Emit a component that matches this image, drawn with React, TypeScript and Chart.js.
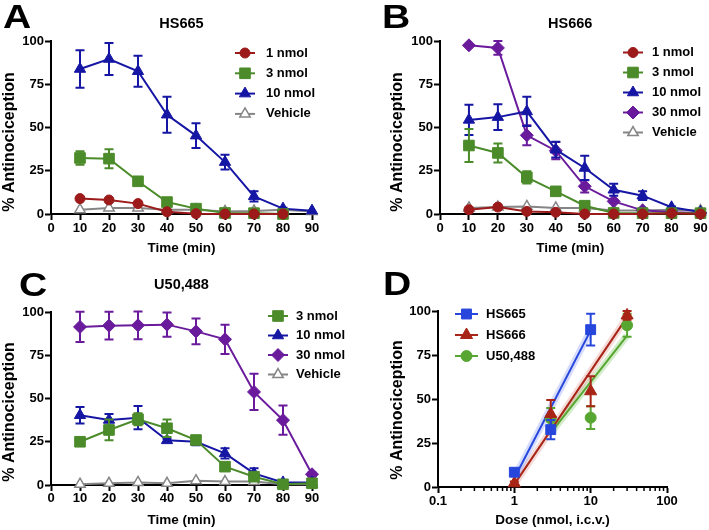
import React, { useEffect, useRef } from "react";
import { Chart, registerables } from "chart.js";

Chart.register(...registerables);

const FONT = "'Liberation Sans', Arial, Helvetica, sans-serif";
Chart.defaults.font.family = FONT;
Chart.defaults.color = "#000";

// ---------------- data ----------------
const timesMin = [10, 20, 30, 40, 50, 60, 70, 80, 90];

// Panel A: HS665
const hs665_1nmol = [8.9, 8.1, 6.0, 1.3, 0.2, 0, 0, 0];
const hs665_1nmol_sem = [0, 0, 0, 0, 0, 0, 0, 0];
const hs665_3nmol = [32.4, 32.0, 18.9, 6.9, 3.1, 0.6, 0.5, 0];
const hs665_3nmol_sem = [3.9, 5.5, 1, 0.5, 0, 0, 0, 0];
const hs665_10nmol = [83.8, 89.6, 82.5, 57.4, 45.3, 30.0, 10.2, 3.1, 1.9];
const hs665_10nmol_sem = [10.8, 9.2, 9.0, 10.4, 7.2, 4.3, 3.0, 0.5, 0];
const hs665_vehicle = [2.5, 3.5, 3.5, 2.5, 2.5, 1.5, 1.8, 2.5, 1.5];

// Panel B: HS666
const hs666_1nmol = [2.5, 4.0, 1.5, 1.0, 0, 0, 0, 0.5, 0];
const hs666_3nmol = [39.6, 35.3, 21.2, 13.1, 4.8, 0.6, 0.5, 0.5, 0.5];
const hs666_3nmol_sem = [9.5, 5.5, 3.5, 2.0, 1, 0, 0, 0, 0];
const hs666_10nmol = [54.4, 56.0, 59.3, 37.2, 26.6, 14.0, 10.6, 3.9, 1.2];
const hs666_10nmol_sem = [8.7, 7.5, 8.5, 4.5, 7.0, 3.5, 2.5, 0.5, 0];
const hs666_30nmol = [97.5, 96.0, 45.5, 36.6, 16.0, 7.3, 2.1, 1.0, 0.6];
const hs666_30nmol_sem = [0, 4.0, 5.8, 5.0, 3.5, 1, 0, 0, 0];
const hs666_vehicle = [3.5, 4.0, 4.4, 3.5, 3.5, 2.0, 2.0, 2.5, 2.0];

// Panel C: U50,488
const u50_3nmol = [25.0, 31.8, 38.0, 32.8, 26.0, 10.6, 4.8, 0.4, 1.0];
const u50_3nmol_sem = [1.5, 6.0, 3.5, 5.0, 2.0, 1, 0.5, 0, 0];
const u50_10nmol = [40.3, 37.6, 38.9, 25.8, 25.0, 18.3, 6.7, 1.5, 1.5];
const u50_10nmol_sem = [4.8, 3.4, 6.7, 1, 2.0, 3.0, 3.0, 0, 0];
const u50_30nmol = [91.4, 92.1, 92.3, 92.7, 88.8, 84.2, 53.8, 37.5, 6.2];
const u50_30nmol_sem = [8.8, 8.0, 8.0, 7.0, 7.5, 8.5, 10.5, 8.5, 1];
const u50_vehicle = [0.5, 1.0, 1.5, 1.0, 2.5, 2.0, 2.0, 0.5, 0.5];

// Panel D: dose-response
const doseHS665 = [1, 3, 10];
const respHS665 = [8.4, 32.6, 89.4];
const semHS665 = [1.5, 5.5, 9.0];
const doseHS666 = [1, 3, 10, 30];
const respHS666 = [2.1, 41.5, 54.4, 97.5];
const semHS666 = [1, 8.0, 8.5, 2.5];
const doseU50 = [3, 10, 30];
const respU50 = [38.9, 39.4, 91.9];
const semU50 = [6.0, 6.5, 6.5];
const fitDoseHS665 = [1, 10];
const fitRespHS665 = [5, 89];
const fitDoseHS666 = [1, 30];
const fitRespHS666 = [1.5, 96.5];
const fitDoseU50 = [3, 30];
const fitRespU50 = [30.7, 86];
const doseMajorTicks = [0.1, 1, 10, 100];

// ---------------- colours ----------------
const C_RED = "#9c1a1a";
const C_GREEN = "#4b8b2a";
const C_BLUE = "#1616a4";
const C_PURPLE = "#6a1b9c";
const C_GRAY = "#858585";
const D_BLUE = "#2646dc";
const D_RED = "#a82416";
const D_GREEN = "#58a632";

// ---------------- helpers ----------------
function drawMarker(ctx: CanvasRenderingContext2D, style: string, x: number, y: number, r: number, fill: string, stroke: string, lw: number) {
  ctx.beginPath();
  if (style === "circle") {
    ctx.arc(x, y, r, 0, Math.PI * 2);
  } else if (style === "rect") {
    const s = r * Math.SQRT1_2;
    ctx.rect(x - s, y - s, 2 * s, 2 * s);
  } else if (style === "rectRot") {
    ctx.moveTo(x - r, y);
    ctx.lineTo(x, y - r);
    ctx.lineTo(x + r, y);
    ctx.lineTo(x, y + r);
    ctx.closePath();
  } else {
    for (let k = 0; k < 3; k++) {
      const a = (k * 2 * Math.PI) / 3;
      const px = x + Math.sin(a) * r;
      const py = y - Math.cos(a) * r;
      if (k === 0) ctx.moveTo(px, py);
      else ctx.lineTo(px, py);
    }
    ctx.closePath();
  }
  ctx.fillStyle = fill;
  ctx.fill();
  ctx.lineWidth = lw;
  ctx.strokeStyle = stroke;
  ctx.stroke();
}

const errorBarPlugin = {
  id: "errorBars",
  afterDatasetDraw(chart: any, args: any) {
    const ds = chart.data.datasets[args.index];
    if (!ds.errors) return;
    const ctx = chart.ctx as CanvasRenderingContext2D;
    const yScale = chart.scales.y;
    ctx.save();
    ctx.strokeStyle = ds.borderColor;
    ctx.lineWidth = 2;
    args.meta.data.forEach((pt: any, i: number) => {
      const e = ds.errors[i];
      if (!e) return;
      const v = ds.data[i].y;
      const yTop = yScale.getPixelForValue(v + e);
      const yBot = yScale.getPixelForValue(v - e);
      const x = pt.x;
      ctx.beginPath();
      ctx.moveTo(x, yTop);
      ctx.lineTo(x, yBot);
      ctx.moveTo(x - 4.5, yTop);
      ctx.lineTo(x + 4.5, yTop);
      ctx.moveTo(x - 4.5, yBot);
      ctx.lineTo(x + 4.5, yBot);
      ctx.stroke();
    });
    ctx.restore();
  },
};

type Deco = {
  letter: string;
  letterX: number;
  letterY: number;
  title?: string;
  titleY?: number;
  yTitleX: number;
  yTitleY: number;
  legend: { x1: number; x2: number; textX: number; y0: number; dy: number; labels: string[] };
  minorTicks?: boolean;
};

function makeDeco(d: Deco) {
  return {
    id: "deco",
    afterDraw(chart: any) {
      const ctx = chart.ctx as CanvasRenderingContext2D;
      const area = chart.chartArea;
      ctx.save();
      ctx.fillStyle = "#000";
      ctx.save();
      ctx.translate(d.letterX, d.letterY);
      ctx.scale(1.15, 1);
      ctx.font = `bold 34px ${FONT}`;
      ctx.textAlign = "left";
      ctx.textBaseline = "alphabetic";
      ctx.fillText(d.letter, 0, 0);
      ctx.restore();

      if (d.title) {
        ctx.font = `bold 14.5px ${FONT}`;
        ctx.textAlign = "center";
        ctx.textBaseline = "middle";
        ctx.fillText(d.title, (area.left + area.right) / 2, d.titleY!);
      }

      ctx.save();
      ctx.translate(d.yTitleX, d.yTitleY);
      ctx.rotate(-Math.PI / 2);
      ctx.font = `bold 16px ${FONT}`;
      ctx.textAlign = "center";
      ctx.textBaseline = "middle";
      ctx.fillStyle = "#000";
      ctx.fillText("% Antinociception", 0, 0);
      ctx.restore();

      // legend
      const L = d.legend;
      L.labels.forEach((label, i) => {
        const ds = chart.data.datasets.find((s: any) => s.label === label && s.inLegend);
        if (!ds) return;
        const y = L.y0 + i * L.dy;
        ctx.beginPath();
        ctx.strokeStyle = ds.borderColor;
        ctx.lineWidth = 2;
        ctx.moveTo(L.x1, y);
        ctx.lineTo(L.x2, y);
        ctx.stroke();
        drawMarker(ctx, ds.pointStyle, (L.x1 + L.x2) / 2, y, ds.pointRadius, ds.pointBackgroundColor, ds.pointBorderColor, ds.pointBorderWidth);
        ctx.fillStyle = "#000";
        ctx.font = `bold 13px ${FONT}`;
        ctx.textAlign = "left";
        ctx.textBaseline = "middle";
        ctx.fillText(label, L.textX, y);
      });

      if (d.minorTicks) {
        const xs = chart.scales.x;
        ctx.strokeStyle = "#000";
        ctx.lineWidth = 1.5;
        for (let k = -1; k <= 1; k++) {
          for (let m = 2; m <= 9; m++) {
            const px = xs.getPixelForValue(m * Math.pow(10, k));
            ctx.beginPath();
            ctx.moveTo(px, area.bottom);
            ctx.lineTo(px, area.bottom + 4);
            ctx.stroke();
          }
        }
      }
      ctx.restore();
    },
  };
}

function series(label: string, xs: number[], values: number[], errors: number[] | null, color: string, style: string, radius: number, opts: any = {}) {
  return {
    label,
    inLegend: true,
    data: values.map((v, i) => ({ x: xs[i], y: v })),
    errors,
    borderColor: color,
    backgroundColor: color,
    pointBackgroundColor: opts.fill ?? color,
    pointBorderColor: color,
    pointBorderWidth: opts.pointBorderWidth ?? 1,
    pointStyle: style,
    pointRadius: radius,
    borderWidth: 2,
    showLine: opts.showLine ?? true,
    clip: false,
    order: opts.order ?? 0,
  };
}

function fitLine(xs: number[], ys: number[], color: string, width: number, order: number) {
  return {
    label: "fit",
    inLegend: false,
    data: ys.map((v, i) => ({ x: xs[i], y: v })),
    borderColor: color,
    borderWidth: width,
    pointRadius: 0,
    clip: false,
    order,
  };
}

const gridOpts = { drawOnChartArea: false, drawTicks: true, tickLength: 6, tickColor: "#000", tickWidth: 2 };
const borderOpts = { display: true, color: "#000", width: 2 };
const tickFont = { size: 13, weight: "bold" };

function yScale(width: number) {
  return {
    type: "linear",
    min: 0,
    max: 100,
    ticks: { stepSize: 25, color: "#000", font: tickFont, padding: 1 },
    grid: gridOpts,
    border: borderOpts,
    afterFit: (s: any) => {
      s.width = width;
    },
  };
}

function timeXScale(height: number, titlePad: number, tickPad: number) {
  return {
    type: "linear",
    min: 0,
    max: 90,
    ticks: { stepSize: 10, color: "#000", font: tickFont, padding: tickPad, maxRotation: 0, autoSkip: false },
    grid: gridOpts,
    border: borderOpts,
    title: { display: true, text: "Time (min)", color: "#000", font: { size: 13.5, weight: "bold" }, padding: { top: 0, bottom: titlePad } },
    afterFit: (s: any) => {
      s.height = height;
    },
  };
}

function baseOptions(padding: any, scales: any) {
  return {
    responsive: false,
    animation: false,
    events: [],
    layout: { padding },
    plugins: { legend: { display: false }, tooltip: { enabled: false }, title: { display: false } },
    scales,
  };
}

// ---------------- panel configs ----------------
function buildA() {
  return {
    type: "line",
    data: {
      datasets: [
        series("1 nmol", timesMin, hs665_1nmol, hs665_1nmol_sem, C_RED, "circle", 5),
        series("3 nmol", timesMin, hs665_3nmol, hs665_3nmol_sem, C_GREEN, "rect", 7.5),
        series("10 nmol", timesMin, hs665_10nmol, hs665_10nmol_sem, C_BLUE, "triangle", 6.5),
        series("Vehicle", timesMin, hs665_vehicle, null, C_GRAY, "triangle", 6, { fill: "#fff", pointBorderWidth: 1.5 }),
      ],
    },
    options: baseOptions({ top: 41, right: 43, left: 0, bottom: 0 }, { x: timeXScale(51, 9, 1), y: yScale(51) }),
    plugins: [
      errorBarPlugin,
      makeDeco({
        letter: "A", letterX: 3, letterY: 28, title: "HS665", titleY: 24, yTitleX: 10, yTitleY: 142,
        legend: { x1: 235, x2: 255, textX: 266, y0: 53, dy: 20.3, labels: ["1 nmol", "3 nmol", "10 nmol", "Vehicle"] },
      }),
    ],
  };
}

function buildB() {
  return {
    type: "line",
    data: {
      datasets: [
        series("1 nmol", timesMin, hs666_1nmol, null, C_RED, "circle", 5),
        series("3 nmol", timesMin, hs666_3nmol, hs666_3nmol_sem, C_GREEN, "rect", 7.5),
        series("10 nmol", timesMin, hs666_10nmol, hs666_10nmol_sem, C_BLUE, "triangle", 6.5),
        series("30 nmol", timesMin, hs666_30nmol, hs666_30nmol_sem, C_PURPLE, "rectRot", 6.5),
        series("Vehicle", timesMin, hs666_vehicle, null, C_GRAY, "triangle", 6, { fill: "#fff", pointBorderWidth: 1.5 }),
      ],
    },
    options: baseOptions({ top: 41, right: 8, left: 0, bottom: 0 }, { x: timeXScale(51, 9, 1), y: yScale(85) }),
    plugins: [
      errorBarPlugin,
      makeDeco({
        letter: "B", letterX: 27, letterY: 28, title: "HS666", titleY: 24, yTitleX: 43, yTitleY: 142,
        legend: { x1: 268, x2: 288, textX: 297, y0: 52.5, dy: 20, labels: ["1 nmol", "3 nmol", "10 nmol", "30 nmol", "Vehicle"] },
      }),
    ],
  };
}

function buildC() {
  return {
    type: "line",
    data: {
      datasets: [
        series("3 nmol", timesMin, u50_3nmol, u50_3nmol_sem, C_GREEN, "rect", 7.5),
        series("10 nmol", timesMin, u50_10nmol, u50_10nmol_sem, C_BLUE, "triangle", 6.5),
        series("30 nmol", timesMin, u50_30nmol, u50_30nmol_sem, C_PURPLE, "rectRot", 6.5),
        series("Vehicle", timesMin, u50_vehicle, null, C_GRAY, "triangle", 6, { fill: "#fff", pointBorderWidth: 1.5 }),
      ],
    },
    options: baseOptions({ top: 47, right: 43, left: 0, bottom: 0 }, { x: timeXScale(45, 2, 0), y: yScale(51) }),
    plugins: [
      errorBarPlugin,
      makeDeco({
        letter: "C", letterX: 19, letterY: 31, title: "U50,488", titleY: 20, yTitleX: 10, yTitleY: 147,
        legend: { x1: 268, x2: 288, textX: 296, y0: 51, dy: 19.5, labels: ["3 nmol", "10 nmol", "30 nmol", "Vehicle"] },
      }),
    ],
  };
}

function buildD() {
  return {
    type: "line",
    data: {
      datasets: [
        series("HS665", doseHS665, respHS665, semHS665, D_BLUE, "rect", 7, { showLine: false, order: 0 }),
        series("HS666", doseHS666, respHS666, semHS666, D_RED, "triangle", 7, { showLine: false, order: 0 }),
        series("U50,488", doseU50, respU50, semU50, D_GREEN, "circle", 5.5, { showLine: false, order: 0 }),
        fitLine(fitDoseHS665, fitRespHS665, D_BLUE, 2, 1),
        fitLine(fitDoseHS666, fitRespHS666, D_RED, 2, 1),
        fitLine(fitDoseU50, fitRespU50, D_GREEN, 2, 1),
        fitLine(fitDoseHS665, fitRespHS665, "rgba(120,140,250,0.3)", 7, 2),
        fitLine(fitDoseHS666, fitRespHS666, "rgba(210,110,100,0.25)", 7, 2),
        fitLine(fitDoseU50, fitRespU50, "rgba(130,200,100,0.35)", 7, 2),
      ],
    },
    options: baseOptions({ top: 46, right: 42, left: 0, bottom: 0 }, {
      x: {
        type: "logarithmic",
        min: 0.1,
        max: 100,
        afterBuildTicks: (s: any) => {
          s.ticks = doseMajorTicks.map((v) => ({ value: v, major: true }));
        },
        ticks: { color: "#000", font: tickFont, padding: 1, maxRotation: 0, autoSkip: false, callback: (v: any) => String(Number(v)) },
        grid: gridOpts,
        border: borderOpts,
        title: { display: true, text: "Dose (nmol, i.c.v.)", color: "#000", font: { size: 13.5, weight: "bold" }, padding: { top: 0, bottom: 2 } },
        afterFit: (s: any) => {
          s.height = 43;
        },
      },
      y: yScale(83),
    }),
    plugins: [
      errorBarPlugin,
      makeDeco({
        letter: "D", letterX: 28, letterY: 30, yTitleX: 43, yTitleY: 145, minorTicks: true,
        legend: { x1: 100, x2: 123, textX: 131, y0: 49, dy: 21, labels: ["HS665", "HS666", "U50,488"] },
      }),
    ],
  };
}

function ChartPanel({ x, y, w, h, build }: { x: number; y: number; w: number; h: number; build: () => any }) {
  const ref = useRef<HTMLCanvasElement>(null);
  useEffect(() => {
    const chart = new Chart(ref.current as HTMLCanvasElement, build());
    return () => chart.destroy();
  }, [build]);
  return (
    <div style={{ position: "absolute", left: x, top: y, width: w, height: h }}>
      <canvas ref={ref} width={w} height={h} style={{ width: w, height: h, display: "block" }} />
    </div>
  );
}

export default function App() {
  return (
    <div style={{ position: "absolute", left: 0, top: 0, width: 709, height: 530, background: "#fff", overflow: "hidden" }}>
      <ChartPanel x={0} y={0} w={355} h={265} build={buildA} />
      <ChartPanel x={355} y={0} w={354} h={265} build={buildB} />
      <ChartPanel x={0} y={265} w={355} h={265} build={buildC} />
      <ChartPanel x={355} y={265} w={354} h={265} build={buildD} />
    </div>
  );
}
